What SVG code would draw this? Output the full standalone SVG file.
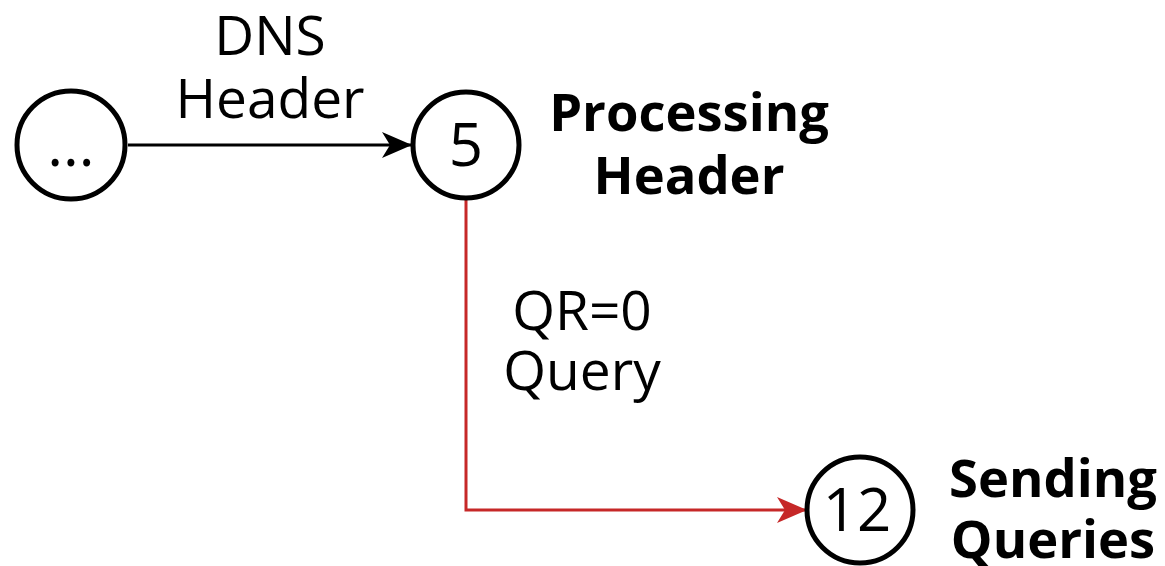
<svg xmlns="http://www.w3.org/2000/svg" width="1165" height="566" viewBox="0 0 1165 566">
<defs>
<style>
.node{fill:#fff;stroke:#000;stroke-width:5}
.num{font-family:"Open Sans","Noto Sans",sans-serif;font-size:60px;text-anchor:middle;fill:#000}
.lbl{font-family:"Open Sans","Noto Sans",sans-serif;font-size:55px;text-anchor:middle;fill:#000}
.title{font-family:"Open Sans","Noto Sans",sans-serif;font-size:52.5px;font-weight:bold;text-anchor:middle;fill:#000}
</style>
<marker id="ab" markerWidth="30" markerHeight="26" refX="29" refY="13" orient="auto" markerUnits="userSpaceOnUse" viewBox="0 0 30 26"><path d="M0,0 L30,13 L0,26 L8,13 Z" fill="#000"/></marker>
<marker id="ar" markerWidth="30" markerHeight="26" refX="29" refY="13" orient="auto" markerUnits="userSpaceOnUse" viewBox="0 0 30 26"><path d="M0,0 L30,13 L0,26 L8,13 Z" fill="#c62828"/></marker>
</defs>
<g id="connectors">
<path d="M128,145 L411,145" fill="none" stroke="#000" stroke-width="3" marker-end="url(#ab)"/>
<text class="lbl" x="270" y="55">DNS</text>
<text class="lbl" x="270" y="118">Header</text>
<path d="M466,200 L466,510 L806,510" fill="none" stroke="#c62828" stroke-width="3" marker-end="url(#ar)"/>
<text class="lbl" x="582" y="330">QR=0</text>
<text class="lbl" x="582" y="390">Query</text>
</g>
<g id="node-start">
<circle class="node" cx="71" cy="145" r="54"/>
<text class="num" x="71" y="166">...</text>
</g>
<g id="node-5">
<circle class="node" cx="466" cy="145" r="53"/>
<text class="num" x="466" y="166">5</text>
<text class="title" x="689" y="131">Processing</text>
<text class="title" x="689" y="194">Header</text>
</g>
<g id="node-12">
<circle class="node" cx="860" cy="510" r="53"/>
<text class="num" x="857" y="531">12</text>
<text class="title" x="1053" y="497">Sending</text>
<text class="title" x="1053" y="558">Queries</text>
</g>
</svg>
